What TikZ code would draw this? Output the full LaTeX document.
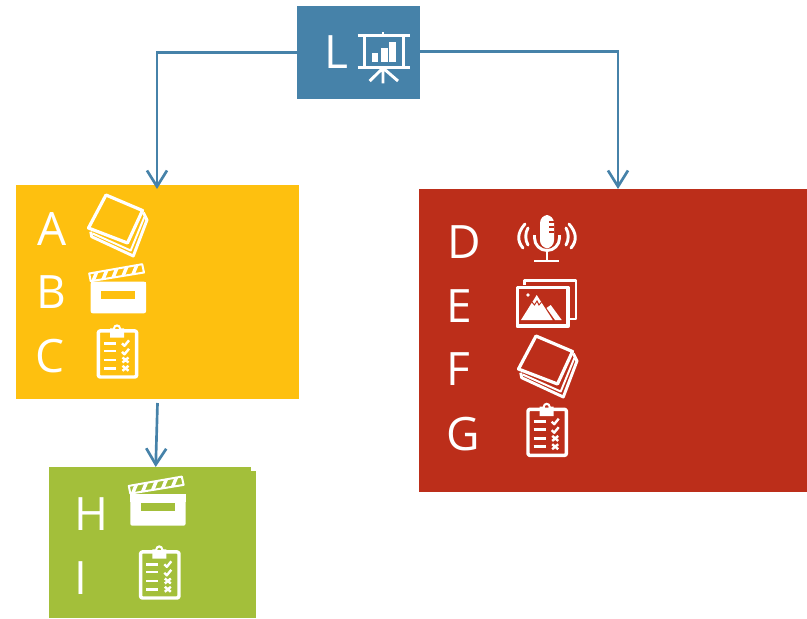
\documentclass[tikz,border=0pt]{standalone}
\usepackage{fontspec}
\setmainfont{Open Sans}
\usepackage{xcolor}
\usetikzlibrary{arrows.meta}

\definecolor{slideblue}{HTML}{4682A9}
\definecolor{yellowbox}{HTML}{FEC00F}
\definecolor{redbox}{HTML}{BC2E1A}
\definecolor{greenbox}{HTML}{A3BF3A}

\tikzset{
  box/.style={inner sep=0pt,outer sep=0pt},
  letter/.style={white,inner sep=0pt,anchor=base west,font=\fontsize{34.5}{40}\selectfont},
  link/.style={slideblue,line width=2pt,-{Straight Barb[length=12pt,width=15pt]}},
  icon/.style={white,line width=2.2pt,line join=round},
  pics/stackicon/.style={code={
    \draw[icon,line width=2.4pt] (19,1) -- (55.5,16.5) -- (40.5,49) -- (1.5,34) -- cycle;
    \draw[icon] (3.7,37.7) -- (4.7,42.7) -- (46.3,62) -- (60,26) -- (56.3,18.5);
    \draw[icon,line width=1.5pt] (5.7,39.5) -- (43.7,56.5) -- (57.5,22.7);
  }},
  pics/clappericon/.style={code={
    \fill[white,rounded corners=1.5pt] (2.7,18.7) rectangle (58,50.3);
    \fill[white] (2.7,18.7) rectangle (58,27);
    \fill[#1] (13,27.7) rectangle (47,36);
    \draw[icon,line width=1.5pt] (1.2,10.5) -- (54.2,1.2) -- (56,9.5) -- (2.7,18.2) -- cycle;
    \foreach \x in {3,13,23,33,43}
      \fill[white] (\x,{19-0.17*\x}) -- ++(3.5,-8.5) -- ++(4,-0.7) -- ++(-3.5,8.5) -- cycle;
  }},
  pics/clipicon/.style={code={
    \draw[icon,line width=2.6pt,rounded corners=1.5pt] (2.3,2.6) rectangle (40.7,48.7);
    \fill[white,even odd rule] (14,9.3) -- (14,0) -- (17,0) arc[start angle=180,end angle=360,radius=4] -- (28,0) -- (28,9.3) -- cycle
      (21,0.3) circle[radius=2];
    \foreach \y in {15,22.7,31.7,40}
      \draw[icon,line width=2pt] (8,\y) -- (20,\y);
    \foreach \y in {15,23.5}
      \draw[icon,line width=1.8pt] (26,\y) -- (28.5,{\y+2.5}) -- (33,{\y-3});
    \foreach \y in {31.7,40}
      \draw[icon,line width=1.8pt] (26.5,{\y-2.5}) -- (32.5,{\y+2.5}) (26.5,{\y+2.5}) -- (32.5,{\y-2.5});
  }}
}

\begin{document}
\begin{tikzpicture}[x=0.75pt,y=-0.75pt]
\useasboundingbox (0,0) rectangle (807,618);

% Boxes
\node[box,fill=slideblue,minimum width=92.25pt,minimum height=69.75pt] (lBox) at (358.5,52.5) {};
\node[box,fill=yellowbox,minimum width=212.25pt,minimum height=160.5pt] (yellowBox) at (157.5,292) {};
\node[box,fill=redbox,minimum width=291pt,minimum height=227.6pt] (redBox) at (613,340.75) {};
\node[box,fill=greenbox,minimum width=155.25pt,minimum height=110.25pt] (greenBack) at (152.5,544.5) {};
\node[box,fill=greenbox,minimum width=151.5pt,minimum height=113.25pt] (greenBox) at (150,542.5) {};

% Arrow ends
\coordinate (yellowTip) at (157,189);
\coordinate (redTip) at (618,189);
\coordinate (greenTip) at (155.7,467);
\coordinate (yellowFoot) at (157.5,403);
\coordinate (lRight) at (420,51.5);

% Connectors
\draw[link] (lBox.west) -| (yellowTip);
\draw[link] (lRight) -| (redTip);
\draw[link] (yellowFoot) -- (greenTip);

% Top box
\node[letter] (labelL) at (324,68.5) {L};
\draw[icon] (357.7,35.7) -- (410.3,35.7) (383,32.3) -- (383,35.7);
\draw[icon] (364.3,35.7) -- (364.3,67.7) (403.7,35.7) -- (403.7,67.7);
\draw[icon] (357.7,67.7) -- (410.3,67.7);
\draw[icon] (369.7,81) -- (383,68) -- (398,81) (383,68) -- (383,83.3);
\fill[white] (372,53.3) rectangle (378,62.3);
\fill[white] (381,48.3) rectangle (387.5,62.3);
\fill[white] (389.3,41.7) rectangle (395.7,62.3);

% Yellow box
\node[letter] (labelA) at (37,245) {A};
\node[letter] (labelB) at (36,308) {B};
\node[letter] (labelC) at (35.5,372.5) {C};
\pic at (87,194) {stackicon};
\pic at (88,263) {clappericon=yellowbox};
\pic at (96,328.3) {clipicon};

% Red box
\node[letter] (labelD) at (447,258) {D};
\node[letter] (labelE) at (446.5,322) {E};
\node[letter] (labelF) at (446.5,385) {F};
\node[letter] (labelG) at (446.5,450) {G};
\pic at (517,335) {stackicon};
\pic at (525.7,406.7) {clipicon};
% microphone
\fill[white,rounded corners=6pt] (540,215) rectangle (554,248.3);
\draw[redbox,line width=0.8pt] (549,222) -- (554,222) (549,227) -- (554,227) (549,232) -- (554,232);
\draw[icon] (534.5,235) -- (534.5,238) arc[start angle=180,end angle=360,radius=12.5,y radius=-12.5] -- (559.5,235);
\draw[icon] (547,250.5) -- (547,261) (534,261) -- (559.3,261);
\draw[icon,line cap=round] (525,224) .. controls (517,233) and (517,241) .. (523,248);
\draw[icon,line cap=round] (528,228) .. controls (525,233) and (525,240) .. (528,245);
\draw[icon,line cap=round] (569,224) .. controls (577,233) and (577,241) .. (571,248);
\draw[icon,line cap=round] (566,228) .. controls (569,233) and (569,240) .. (566,245);
% pictures
\draw[icon,line width=2.8pt] (517.5,287.5) rectangle (568,326.3);
\draw[icon] (524.5,285) -- (524.5,280.3) -- (576,280.3) -- (576,319) -- (570,319);
\fill[white] (521,320) -- (536.7,295) -- (552.7,320) -- cycle;
\fill[white] (550.7,305) -- (561.7,320) -- (555,320) -- (546.5,308) -- cycle;
\fill[white] (528,295) circle[radius=1.8];
\draw[redbox,line width=0.7pt] (532,302) -- (534.5,305) -- (537,301) -- (539,305) -- (541.5,302);

% Green box
\node[letter] (labelH) at (74,530) {H};
\node[letter] (labelI) at (74,594) {I};
\pic at (127.6,475.4) {clappericon=greenbox};
\pic at (138.3,549.3) {clipicon};
\end{tikzpicture}
\end{document}
